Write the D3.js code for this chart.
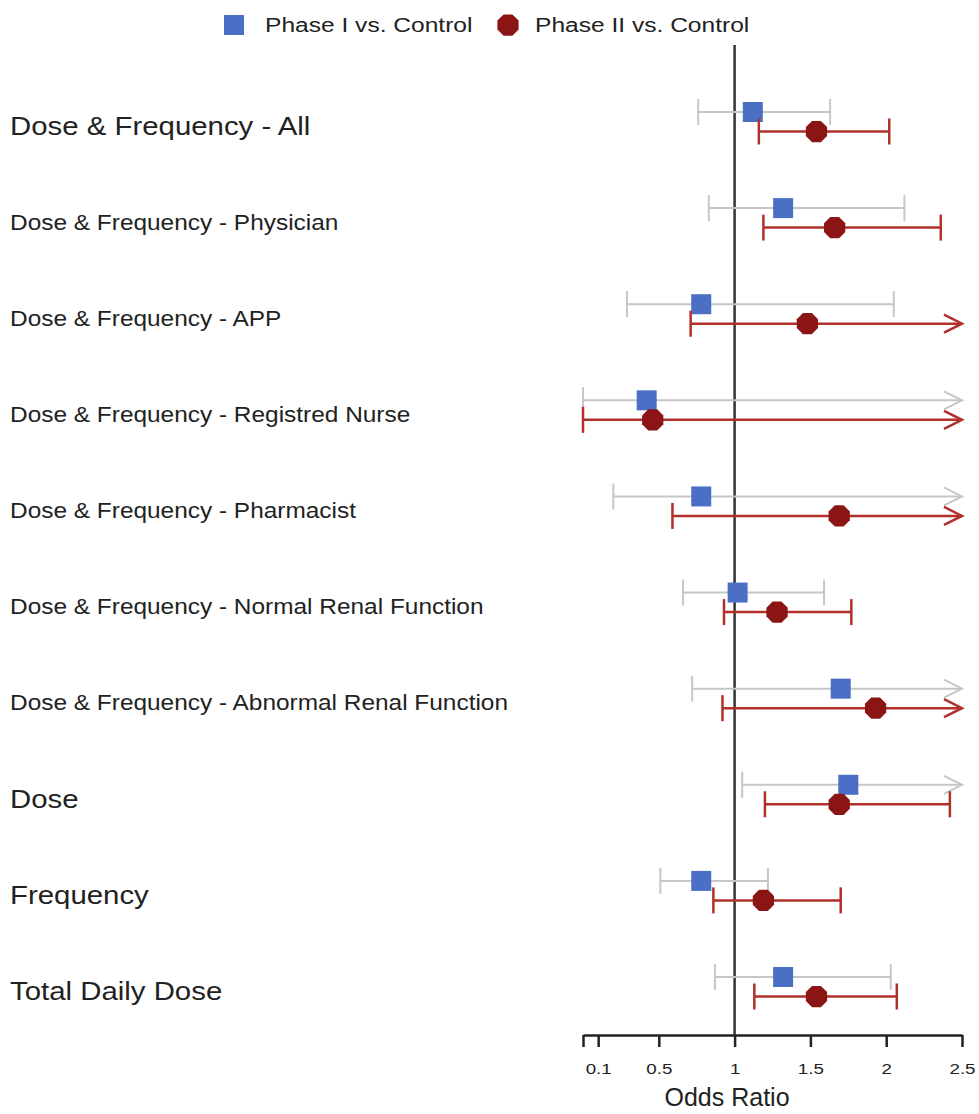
<!DOCTYPE html>
<html>
<head>
<meta charset="utf-8">
<script src="https://cdn.jsdelivr.net/npm/d3@7"></script>
<style>
	body { margin: 0; background: #fff; }
	text { font-family: "Liberation Sans", Arial, sans-serif; fill: #222; }
</style>
</head>
<body>
<div id="chart"></div>
<script>
// rows, top to bottom
const categories = [
	"Dose & Frequency - All",
	"Dose & Frequency - Physician",
	"Dose & Frequency - APP",
	"Dose & Frequency - Registred Nurse",
	"Dose & Frequency - Pharmacist",
	"Dose & Frequency - Normal Renal Function",
	"Dose & Frequency - Abnormal Renal Function",
	"Dose",
	"Frequency",
	"Total Daily Dose"
];
const bigLabels = ["Dose & Frequency - All", "Dose", "Frequency", "Total Daily Dose"];

// Infinity = interval runs past the axis (drawn as an arrow)
const phase1Or = [1.12, 1.32, 0.78, 0.42, 0.78, 1.02, 1.70, 1.75, 0.78, 1.32];
const phase1Lo = [0.76, 0.83, 0.29, 0.00, 0.20, 0.66, 0.72, 1.05, 0.51, 0.87];
const phase1Hi = [1.63, 2.12, 2.05, Infinity, Infinity, 1.59, Infinity, Infinity, 1.22, 2.03];

const phase2Or = [1.54, 1.66, 1.48, 0.46, 1.69, 1.28, 1.93, 1.69, 1.19, 1.54];
const phase2Lo = [1.16, 1.19, 0.71, 0.00, 0.59, 0.93, 0.92, 1.20, 0.86, 1.13];
const phase2Hi = [2.02, 2.36, Infinity, Infinity, Infinity, 1.77, Infinity, 2.42, 1.70, 2.07];

const tickValues = [0, 0.1, 0.5, 1, 1.5, 2, 2.5];
const tickLabels = ["", "0.1", "0.5", "1", "1.5", "2", "2.5"];

const width = 979, height = 1114;

const svg = d3.select("#chart").append("svg")
	.attr("width", width)
	.attr("height", height);

const x = d3.scaleLinear().domain([0, 2.5]).range([583, 962]);
const y = d3.scalePoint().domain(categories).range([112, 977]);

const series = [
	{name: "Phase I vs. Control", or: phase1Or, lo: phase1Lo, hi: phase1Hi,
		dy: 0, line: "#c6c6c6", fill: "#4a6fc4", shape: "square", lw: 2},
	{name: "Phase II vs. Control", or: phase2Or, lo: phase2Lo, hi: phase2Hi,
		dy: 19.5, line: "#b2302a", fill: "#8b1414", shape: "oct", lw: 2.5}
];

const octagon = d3.symbol().type({
	draw(ctx, size) {
		const r = Math.sqrt(size) / 2;
		for (let i = 0; i < 8; i++) {
			const a = Math.PI / 8 + i * Math.PI / 4;
			const px = r * Math.cos(a), py = r * Math.sin(a);
			if (i === 0) ctx.moveTo(px, py); else ctx.lineTo(px, py);
		}
		ctx.closePath();
	}
}).size(23 * 23);

// the source figure's lettering is a bit wide, so text gets a horizontal stretch
const stretched = (sel, px, py, sx) => sel.attr("transform", `translate(${px},${py}) scale(${sx},1)`);

// reference line at OR = 1
svg.append("line")
	.attr("x1", x(1)).attr("x2", x(1))
	.attr("y1", 45).attr("y2", 1036)
	.attr("stroke", "#333").attr("stroke-width", 2.5);

// axis
const axis = svg.append("g")
	.attr("transform", "translate(0,1035)")
	.call(d3.axisBottom(x).tickValues(tickValues).tickFormat((d, i) => tickLabels[i]).tickSize(12).tickSizeOuter(0));
axis.select(".domain").attr("stroke", "#222").attr("stroke-width", 2.5);
axis.selectAll(".tick line").attr("stroke", "#222").attr("stroke-width", 2.5);
axis.selectAll(".tick text")
	.attr("y", 39).attr("dy", 0)
	.attr("transform", "scale(1.25,1)")
	.style("font-size", "15px")
	.style("font-family", "Liberation Sans, Arial, sans-serif")
	.attr("fill", "#222");

svg.append("text")
	.attr("x", 727).attr("y", 1106)
	.attr("text-anchor", "middle")
	.style("font-size", "25px")
	.text("Odds Ratio");

// row labels
svg.append("g").selectAll("text")
	.data(categories).enter()
	.append("text")
	.each(function(d) {
		const big = bigLabels.includes(d);
		stretched(d3.select(this), 10, y(d) + 14, big ? 1.13 : 1.11);
	})
	.attr("dy", "0.35em")
	.style("font-size", d => bigLabels.includes(d) ? "26px" : "22px")
	.text(d => d);

// intervals and points
series.forEach(s => {
	const g = svg.append("g");
	const rows = categories.map((c, i) => ({c, or: s.or[i], lo: s.lo[i], hi: s.hi[i]}));
	const yy = d => y(d.c) + s.dy;
	const capH = 13;

	g.selectAll("line.ci").data(rows).enter().append("line")
		.attr("x1", d => x(d.lo))
		.attr("x2", d => isFinite(d.hi) ? x(d.hi) : x(2.5))
		.attr("y1", yy).attr("y2", yy)
		.attr("stroke", s.line).attr("stroke-width", s.lw);

	g.selectAll("line.lo").data(rows).enter().append("line")
		.attr("x1", d => x(d.lo)).attr("x2", d => x(d.lo))
		.attr("y1", d => yy(d) - capH).attr("y2", d => yy(d) + capH)
		.attr("stroke", s.line).attr("stroke-width", s.lw);

	g.selectAll("line.hi").data(rows.filter(d => isFinite(d.hi))).enter().append("line")
		.attr("x1", d => x(d.hi)).attr("x2", d => x(d.hi))
		.attr("y1", d => yy(d) - capH).attr("y2", d => yy(d) + capH)
		.attr("stroke", s.line).attr("stroke-width", s.lw);

	g.selectAll("path.arrow").data(rows.filter(d => !isFinite(d.hi))).enter().append("path")
		.attr("d", d => {
			const ax = x(2.5), ay = yy(d);
			return `M${ax - 18},${ay - 9}L${ax},${ay}L${ax - 18},${ay + 9}`;
		})
		.attr("fill", "none")
		.attr("stroke", s.line).attr("stroke-width", s.lw);

	if (s.shape === "square") {
		g.selectAll("rect").data(rows).enter().append("rect")
			.attr("x", d => x(d.or) - 10).attr("y", d => yy(d) - 10)
			.attr("width", 20).attr("height", 20)
			.attr("fill", s.fill);
	} else {
		g.selectAll("path.pt").data(rows).enter().append("path")
			.attr("transform", d => `translate(${x(d.or)},${yy(d)})`)
			.attr("d", octagon)
			.attr("fill", s.fill);
	}
});

// legend
const legend = svg.append("g");
legend.append("rect")
	.attr("x", 224).attr("y", 15).attr("width", 20).attr("height", 20)
	.attr("fill", series[0].fill);
legend.append("text")
	.call(stretched, 265, 25, 1.17)
	.attr("dy", "0.35em")
	.style("font-size", "21px")
	.text(series[0].name);
legend.append("path")
	.attr("transform", "translate(508,25)")
	.attr("d", octagon)
	.attr("fill", series[1].fill);
legend.append("text")
	.call(stretched, 535, 25, 1.17)
	.attr("dy", "0.35em")
	.style("font-size", "21px")
	.text(series[1].name);
</script>
</body>
</html>
